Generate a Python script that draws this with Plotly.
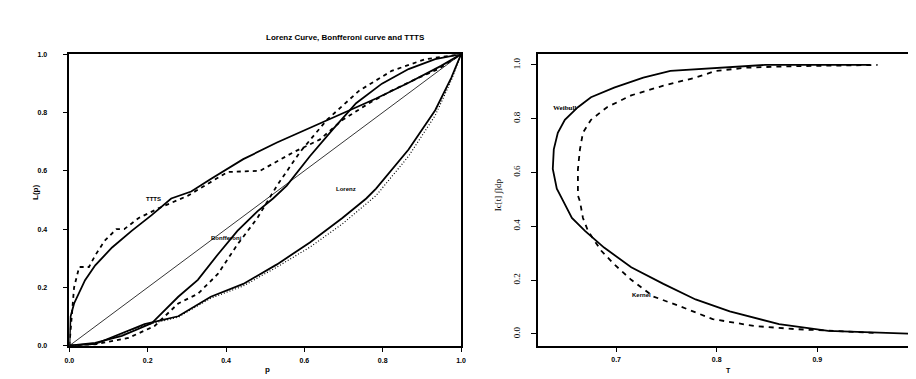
import plotly.graph_objects as go

# ---------------- Left panel data ----------------
diag_p = [0.0, 1.0]
diag_L = [0.0, 1.0]

ttt_p = [0.0, 0.003, 0.012, 0.025, 0.04, 0.066, 0.109, 0.159, 0.21, 0.26, 0.311, 0.361, 0.444, 0.53, 0.614, 0.697, 0.783, 0.866, 0.949, 1.0]
ttt_L = [0.0, 0.10, 0.145, 0.18, 0.225, 0.276, 0.337, 0.394, 0.448, 0.505, 0.529, 0.572, 0.64, 0.697, 0.747, 0.798, 0.848, 0.902, 0.96, 1.0]

ttt_emp_p = [0.0, 0.003, 0.012, 0.025, 0.05, 0.066, 0.09, 0.12, 0.14, 0.177, 0.227, 0.303, 0.361, 0.404, 0.487, 0.571, 0.639, 0.697, 0.765, 0.823, 0.891, 0.942, 1.0]
ttt_emp_L = [0.0, 0.057, 0.20, 0.27, 0.27, 0.31, 0.36, 0.40, 0.40, 0.438, 0.471, 0.515, 0.562, 0.596, 0.60, 0.663, 0.707, 0.774, 0.832, 0.875, 0.919, 0.949, 1.0]

bon_p = [0.0, 0.066, 0.134, 0.21, 0.278, 0.328, 0.379, 0.429, 0.48, 0.52, 0.555, 0.614, 0.672, 0.732, 0.798, 0.866, 0.934, 1.0]
bon_L = [0.0, 0.01, 0.034, 0.077, 0.168, 0.226, 0.313, 0.394, 0.461, 0.505, 0.549, 0.65, 0.741, 0.832, 0.899, 0.949, 0.983, 1.0]

bon_emp_p = [0.0, 0.066, 0.151, 0.217, 0.278, 0.328, 0.379, 0.429, 0.48, 0.53, 0.588, 0.657, 0.74, 0.823, 0.909, 1.0]
bon_emp_L = [0.0, 0.005, 0.027, 0.067, 0.145, 0.178, 0.246, 0.347, 0.438, 0.549, 0.663, 0.774, 0.875, 0.943, 0.983, 1.0]

lor_p = [0.0, 0.066, 0.192, 0.278, 0.361, 0.444, 0.53, 0.614, 0.697, 0.758, 0.783, 0.866, 0.934, 0.975, 1.0]
lor_L = [0.0, 0.006, 0.074, 0.101, 0.168, 0.212, 0.279, 0.354, 0.438, 0.505, 0.539, 0.673, 0.808, 0.919, 1.0]

lor_emp_p = [0.0, 0.066, 0.192, 0.278, 0.361, 0.444, 0.53, 0.614, 0.697, 0.758, 0.783, 0.866, 0.934, 0.975, 1.0]
lor_emp_L = [0.0, 0.005, 0.07, 0.098, 0.163, 0.205, 0.27, 0.338, 0.418, 0.485, 0.515, 0.65, 0.79, 0.91, 1.0]

left_ticks = [0.0, 0.2, 0.4, 0.6, 0.8, 1.0]
left_ticktext = ["0.0", "0.2", "0.4", "0.6", "0.8", "1.0"]

# ---------------- Right panel data ----------------
wei_T = [1.0, 0.911, 0.862, 0.813, 0.779, 0.747, 0.715, 0.688, 0.669, 0.656, 0.646, 0.641, 0.637, 0.638, 0.642, 0.649, 0.662, 0.675, 0.698, 0.727, 0.754, 0.80, 0.848, 0.953]
wei_I = [0.0, 0.011, 0.036, 0.084, 0.128, 0.186, 0.248, 0.321, 0.383, 0.431, 0.504, 0.54, 0.613, 0.686, 0.748, 0.796, 0.843, 0.88, 0.916, 0.953, 0.978, 0.99, 1.0, 1.0]

ker_T = [0.956, 0.917, 0.877, 0.838, 0.796, 0.764, 0.737, 0.715, 0.698, 0.685, 0.672, 0.667, 0.664, 0.662, 0.662, 0.664, 0.667, 0.675, 0.691, 0.715, 0.747, 0.779, 0.799, 0.83, 0.87, 0.96]
ker_I = [0.004, 0.011, 0.018, 0.029, 0.055, 0.102, 0.139, 0.201, 0.259, 0.31, 0.383, 0.431, 0.493, 0.515, 0.613, 0.686, 0.748, 0.796, 0.843, 0.887, 0.923, 0.953, 0.978, 0.99, 0.995, 1.0]

right_xticks = [0.7, 0.8, 0.9, 1.0]
right_xticktext = ["0.7", "0.8", "0.9", "1.0"]
right_yticks = [0.0, 0.2, 0.4, 0.6, 0.8, 1.0]
right_yticktext = ["0.0", "0.2", "0.4", "0.6", "0.8", "1.0"]

W, H = 916, 379
fig = go.Figure()

def add(x, y, ax, width=1.8, dash="solid"):
    fig.add_trace(go.Scatter(x=x, y=y, mode="lines", xaxis="x" + ax, yaxis="y" + ax,
                             line=dict(color="black", width=width, dash=dash),
                             showlegend=False, hoverinfo="skip"))

add(diag_p, diag_L, "", width=0.8)
add(ttt_p, ttt_L, "")
add(ttt_emp_p, ttt_emp_L, "", dash="4px,4px")
add(bon_p, bon_L, "")
add(bon_emp_p, bon_emp_L, "", dash="4px,4px")
add(lor_p, lor_L, "")
add(lor_emp_p, lor_emp_L, "", width=1.2, dash="1px,2px")

add(wei_T, wei_I, "2")
add(ker_T, ker_I, "2", dash="5px,5px")

bold = lambda lst: ["<b>%s</b>" % t for t in lst]

tickfont_bold = dict(family="Liberation Sans, Arial", size=7, color="black")
tickfont_serif = dict(family="Liberation Serif, DejaVu Serif", size=9, color="black")

def px_x(p):
    return p / W

def px_y(p):
    return 1 - p / H

common = dict(showline=True, linecolor="black", linewidth=1.5,
              ticks="outside", ticklen=5, tickcolor="black", tickwidth=1,
              showgrid=False, zeroline=False)

fig.update_layout(
    width=W, height=H,
    margin=dict(l=0, r=0, t=0, b=0),
    plot_bgcolor="white", paper_bgcolor="white",
    xaxis=dict(domain=[px_x(57), px_x(453)], range=[0, 1], anchor="y",
               tickvals=left_ticks, ticktext=bold(left_ticktext), tickfont=tickfont_bold,
               mirror=True, ticklabelstandoff=2, **common),
    yaxis=dict(domain=[px_y(340), px_y(43)], range=[0, 1], anchor="x",
               tickvals=left_ticks, ticktext=bold(left_ticktext), tickfont=tickfont_bold,
               mirror=True, ticklabelstandoff=14, **common),
    xaxis2=dict(domain=[px_x(531), 1.0], range=[0.6225, 1.0012], anchor="y2",
                tickvals=right_xticks, ticktext=bold(right_xticktext), tickfont=tickfont_bold,
                mirror=True, ticklabelstandoff=1, **common),
    yaxis2=dict(domain=[px_y(340), px_y(43)], range=[-0.044, 1.04], anchor="x2",
                tickvals=right_yticks, ticktext=right_yticktext, tickfont=tickfont_serif,
                tickangle=-90, mirror=False, ticklabelstandoff=8, **common),
)

ann_font = dict(family="Liberation Sans, Arial", size=6, color="black")
annotations = [
    dict(text="<b>Lorenz Curve, Bonfferoni curve and TTTS</b>", x=px_x(254), y=px_y(19),
         xref="paper", yref="paper", showarrow=False,
         font=dict(family="Liberation Sans, Arial", size=8, color="black")),
    dict(text="<b>L(p)</b>", x=px_x(16), y=px_y(184), xref="paper", yref="paper",
         showarrow=False, textangle=-90, font=dict(family="Liberation Sans, Arial", size=8, color="black")),
    dict(text="<b>p</b>", x=px_x(253), y=px_y(371), xref="paper", yref="paper",
         showarrow=False, font=dict(family="Liberation Sans, Arial", size=8, color="black")),
    dict(text="Ic[t] ∫]dp", x=px_x(491), y=px_y(186), xref="paper", yref="paper",
         showarrow=False, textangle=-90, font=dict(family="Liberation Serif, DejaVu Serif", size=9, color="black")),
    dict(text="<b>T</b>", x=px_x(728), y=px_y(371), xref="paper", yref="paper",
         showarrow=False, font=dict(family="Liberation Sans, Arial", size=7, color="black")),
    dict(text="<b>TTTS</b>", x=0.215, y=0.505, xref="x", yref="y", showarrow=False, font=ann_font),
    dict(text="<b>Bonfferoni</b>", x=0.40, y=0.37, xref="x", yref="y", showarrow=False, font=ann_font),
    dict(text="<b>Lorenz</b>", x=0.707, y=0.539, xref="x", yref="y", showarrow=False, font=ann_font),
    dict(text="<b>Weibull</b>", x=0.649, y=0.84, xref="x2", yref="y2", showarrow=False,
         font=dict(family="Liberation Serif, DejaVu Serif", size=7, color="black")),
    dict(text="<b>Kernel</b>", x=0.725, y=0.146, xref="x2", yref="y2", showarrow=False, font=ann_font),
]
fig.update_layout(annotations=annotations)

fig.write_html("out.html")
